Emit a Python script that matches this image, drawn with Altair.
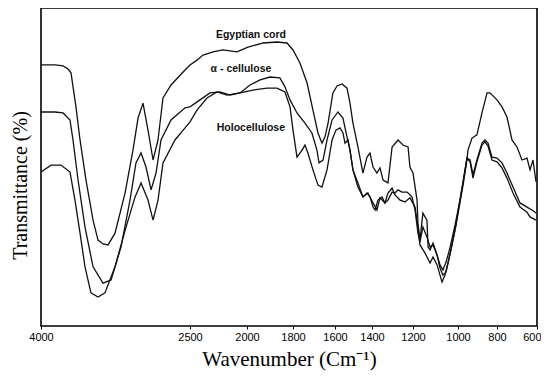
import altair as alt
import pandas as pd

# Tick positions of the (non-uniform) wavenumber axis
tick_values = [4000, 2500, 2000, 1800, 1600, 1400, 1200, 1000, 800, 600]
tick_pixels = [0, 149, 206, 252, 294, 331, 372, 417, 456, 496]

# Egyptian cord
egy_wn = [4000, 3859, 3778, 3728, 3698, 3648, 3607, 3547, 3476, 3426,
          3376, 3325, 3255, 3154, 3074, 3023, 2973, 2923, 2872, 2822,
          2772, 2691, 2550, 2500, 2439, 2386, 2298, 2211, 2088, 1996,
          1930, 1870, 1826, 1800, 1767, 1733, 1705, 1681, 1662, 1648,
          1633, 1610, 1589, 1562, 1535, 1519, 1503, 1476, 1449, 1427,
          1411, 1395, 1376, 1361, 1346, 1322, 1302, 1273, 1249, 1224,
          1215, 1200, 1182, 1178, 1169, 1156, 1138, 1133, 1124, 1111,
          1093, 1080, 1067, 1053, 1036, 1013, 990, 974, 954, 949,
          928, 903, 877, 851, 836, 800, 775, 750, 725, 700,
          675, 650, 635, 620, 605]
egy_t = [82.1, 82.1, 81.8, 80.8, 79.6, 68.9, 58.5, 45.9, 33.3, 27.0,
         25.8, 25.5, 29.2, 41.8, 55.3, 65.4, 70.1, 61.6, 52.2, 58.5,
         71.7, 75.8, 80.5, 82.1, 83.6, 85.2, 86.2, 86.8, 86.2, 87.7,
         89.0, 89.3, 89.0, 86.8, 82.7, 76.4, 67.9, 60.7, 57.5, 59.4,
         63.8, 73.3, 75.5, 76.1, 74.8, 70.1, 63.8, 56.3, 48.1, 53.1,
         54.4, 50.0, 48.1, 49.7, 45.9, 45.0, 56.3, 58.5, 56.9, 56.3,
         50.0, 48.1, 39.6, 32.4, 27.0, 35.5, 33.3, 24.8, 23.9, 26.1,
         22.3, 18.2, 16.0, 17.0, 22.3, 30.2, 38.7, 44.3, 52.2, 55.3,
         59.1, 60.1, 67.0, 73.3, 73.3, 71.1, 68.9, 65.7, 58.5, 56.3,
         52.2, 52.8, 49.1, 52.2, 45.3]

# alpha-cellulose
alp_wn = [4000, 3859, 3778, 3708, 3678, 3627, 3557, 3476, 3376, 3295,
          3195, 3104, 3044, 2993, 2943, 2892, 2842, 2792, 2691, 2550,
          2500, 2412, 2325, 2237, 2149, 2061, 1987, 1943, 1900, 1857,
          1835, 1813, 1781, 1743, 1710, 1686, 1676, 1657, 1638, 1614,
          1584, 1557, 1535, 1519, 1503, 1476, 1449, 1427, 1411, 1395,
          1385, 1371, 1351, 1337, 1322, 1302, 1288, 1273, 1254, 1229,
          1205, 1191, 1178, 1169, 1156, 1138, 1124, 1111, 1093, 1080,
          1067, 1053, 1036, 1013, 990, 974, 954, 938, 923, 903,
          877, 862, 846, 826, 800, 775, 750, 720, 685, 650,
          625, 605]
alp_t = [67.3, 67.3, 67.0, 64.8, 58.5, 45.9, 31.1, 18.6, 13.5, 14.5,
         24.8, 39.6, 51.3, 54.4, 50.0, 42.8, 48.1, 58.5, 64.8, 68.6,
         68.9, 71.1, 73.3, 73.6, 72.6, 73.3, 75.8, 77.4, 78.3, 78.0,
         75.2, 71.1, 67.0, 63.8, 60.7, 55.3, 51.3, 52.2, 58.5, 64.8,
         67.3, 65.4, 59.4, 55.3, 49.1, 45.0, 40.6, 41.8, 40.6, 37.4,
         36.5, 39.6, 40.6, 38.7, 39.6, 42.1, 41.8, 42.8, 42.1, 42.1,
         40.6, 36.5, 29.2, 26.4, 31.1, 28.0, 24.8, 25.5, 22.3, 19.2,
         17.6, 20.1, 24.5, 31.8, 39.6, 45.3, 52.8, 52.2, 47.5, 52.2,
         57.5, 58.5, 57.5, 53.1, 52.8, 51.3, 48.1, 43.7, 38.7, 37.4,
         36.5, 35.5]

# Holocellulose
hol_wn = [4000, 3899, 3799, 3708, 3658, 3607, 3557, 3497, 3426, 3356,
          3255, 3144, 3053, 2993, 2923, 2872, 2822, 2772, 2651, 2550,
          2500, 2439, 2351, 2263, 2175, 2061, 1974, 1913, 1870, 1835,
          1813, 1800, 1781, 1757, 1743, 1729, 1705, 1681, 1662, 1638,
          1614, 1595, 1573, 1557, 1546, 1530, 1519, 1503, 1476, 1449,
          1422, 1395, 1376, 1361, 1337, 1322, 1302, 1288, 1263, 1239,
          1215, 1191, 1178, 1169, 1147, 1124, 1111, 1093, 1080, 1071,
          1058, 1044, 1027, 1009, 990, 974, 954, 938, 923, 903,
          877, 862, 846, 826, 800, 775, 750, 720, 685, 650,
          635, 605]
hol_t = [48.4, 50.6, 50.6, 48.4, 39.6, 29.2, 18.6, 10.4, 9.1, 10.4,
         18.6, 31.1, 40.6, 45.0, 39.6, 33.3, 39.6, 51.3, 58.5, 62.3,
         64.2, 67.9, 71.7, 73.6, 72.6, 73.3, 74.2, 74.8, 74.8, 73.6,
         68.9, 61.6, 53.1, 55.3, 56.9, 54.4, 49.1, 44.3, 43.7, 49.1,
         58.5, 61.6, 62.3, 60.7, 57.5, 58.5, 55.3, 49.1, 43.7, 40.6,
         41.8, 38.7, 36.5, 40.3, 38.7, 41.8, 43.4, 41.2, 39.6, 39.0,
         40.3, 37.4, 31.1, 25.5, 23.0, 19.8, 21.7, 19.2, 16.0, 13.8,
         16.0, 20.1, 25.5, 31.8, 39.6, 45.3, 52.8, 51.6, 46.5, 51.6,
         56.9, 57.9, 56.6, 52.2, 51.6, 49.7, 46.5, 41.8, 37.4, 35.8,
         34.3, 33.3]

label_names = ["Egyptian cord", "\u03b1 - cellulose", "Holocellulose"]
label_wn = [1983, 2053, 1983]
label_t = [91.5, 80.8, 62.3]

rows = []
for name, wns, ts in [("Egyptian cord", egy_wn, egy_t),
                      ("alpha-cellulose", alp_wn, alp_t),
                      ("Holocellulose", hol_wn, hol_t)]:
    for i, (w, t) in enumerate(zip(wns, ts)):
        rows.append({"sample": name, "wn": w, "T": t, "i": i})
df = pd.DataFrame(rows)
labels = pd.DataFrame({"text": label_names, "wn": label_wn, "T": label_t})

xscale = alt.Scale(domain=tick_values, range=tick_pixels, zero=False, nice=False)
yscale = alt.Scale(domain=[0, 100], zero=False, nice=False)

xaxis = alt.Axis(values=tick_values, format="d", grid=False, domain=False,
                 tickSize=3, tickColor="black", labelFont="Liberation Sans",
                 labelFontSize=11, labelColor="black", labelPadding=2,
                 labelAlign={"condition": {"test": "datum.value == 600", "value": "right"},
                             "value": "center"},
                 labelOffset={"condition": {"test": "datum.value == 600", "value": 4},
                              "value": 0},
                 title="Wavenumber (Cm\u207b\u00b9)", titleFont="Liberation Serif",
                 titleFontSize=21, titleFontWeight="normal", titleColor="black",
                 titlePadding=6, labelFlush=False)
yaxis = alt.Axis(labels=False, ticks=False, grid=False, domain=False,
                 title="Transmittance (%)", titleFont="Liberation Serif",
                 titleFontSize=20, titleFontWeight="normal", titleColor="black",
                 titleAngle=270, titleAlign="center", titleBaseline="middle",
                 titleX=-21, titleY=177)

lines = alt.Chart(df).mark_line(color="#111111", strokeWidth=1.3).encode(
    x=alt.X("wn:Q", scale=xscale, axis=xaxis),
    y=alt.Y("T:Q", scale=yscale, axis=yaxis),
    detail="sample:N",
    order="i:Q",
)

text = alt.Chart(labels).mark_text(font="Liberation Sans", fontSize=10.5,
                                   fontWeight="bold", color="#111111").encode(
    x=alt.X("wn:Q", scale=xscale),
    y=alt.Y("T:Q", scale=yscale),
    text="text:N",
)

chart = (lines + text).properties(
    width=496, height=318,
    autosize=alt.AutoSizeParams(type="none"),
    padding={"left": 33, "top": 0, "right": 4, "bottom": 56},
).configure_view(stroke="black", strokeWidth=1.6)

chart.save("out.html", embed_options={"renderer": "svg", "actions": False})
